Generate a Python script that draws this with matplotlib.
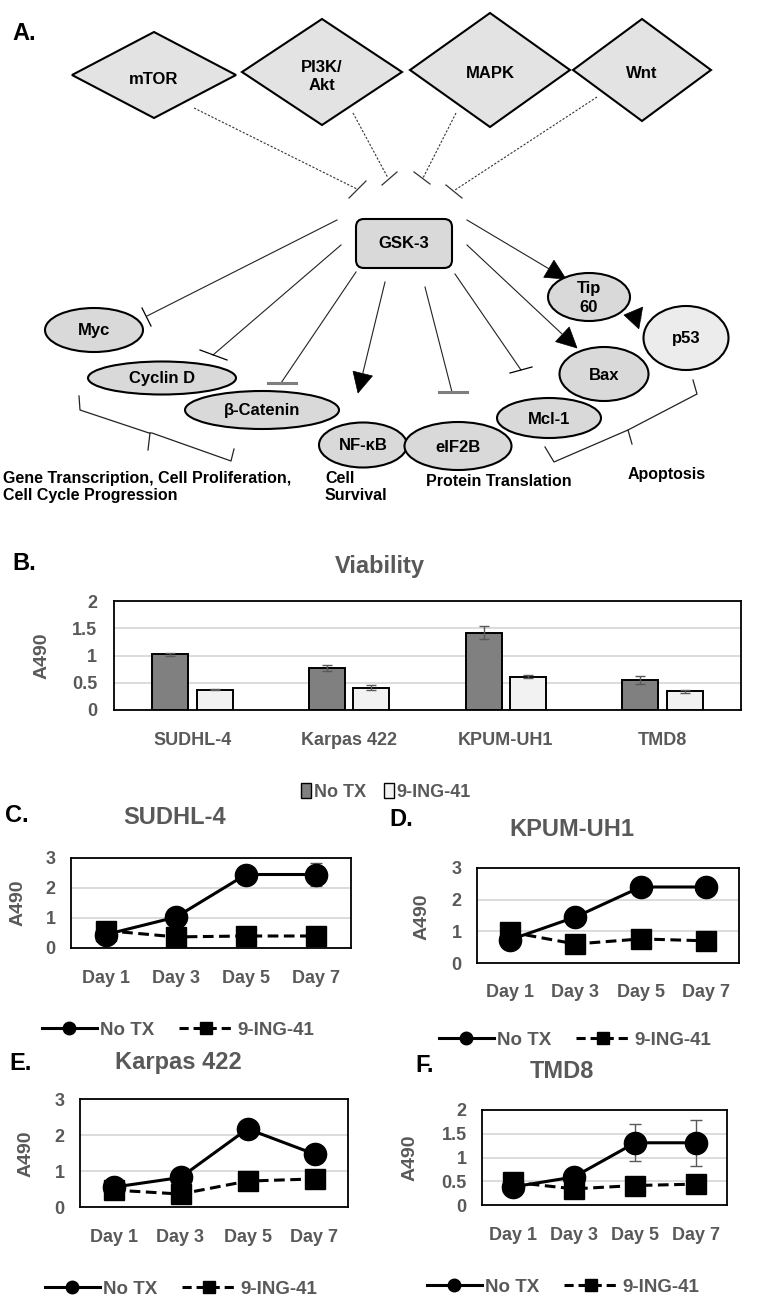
import matplotlib
matplotlib.use('Agg')
import matplotlib.pyplot as plt
import numpy as np
from matplotlib.patches import Polygon, Ellipse, FancyBboxPatch, Patch
from matplotlib.lines import Line2D

# ---- data ----
cell_lines = ['SUDHL-4', 'Karpas 422', 'KPUM-UH1', 'TMD8']
via_notx = [1.02, 0.77, 1.42, 0.55]
via_notx_err = [0.03, 0.06, 0.12, 0.07]
via_ing = [0.37, 0.41, 0.61, 0.34]
via_ing_err = [0.01, 0.04, 0.03, 0.02]

days = ['Day 1', 'Day 3', 'Day 5', 'Day 7']
sudhl_notx = [0.45, 1.03, 2.45, 2.45]
sudhl_notx_err = [0, 0, 0, 0.37]
sudhl_ing = [0.58, 0.37, 0.40, 0.40]
kpum_notx = [0.73, 1.45, 2.40, 2.40]
kpum_ing = [0.98, 0.60, 0.76, 0.70]
karpas_notx = [0.55, 0.82, 2.17, 1.47]
karpas_ing = [0.47, 0.36, 0.72, 0.78]
tmd8_notx = [0.38, 0.59, 1.31, 1.31]
tmd8_notx_err = [0, 0, 0.39, 0.49]
tmd8_ing = [0.48, 0.34, 0.41, 0.44]
no_err = [0, 0, 0, 0]

upstream = ['mTOR', 'PI3K/\nAkt', 'MAPK', 'Wnt']
targets = ['Myc', 'Cyclin D', 'β-Catenin', 'NF-κB', 'eIF2B', 'Mcl-1', 'Bax', 'Tip\n60', 'p53']

plt.rcParams['font.family'] = ['Liberation Sans', 'DejaVu Sans']
plt.rcParams['font.weight'] = 'bold'

W, H = 775, 1305
GRAY = '#595959'
fig = plt.figure(figsize=(7.75, 13.05), dpi=100)
ax0 = fig.add_axes([0, 0, 1, 1])
ax0.set_xlim(0, W)
ax0.set_ylim(H, 0)
ax0.axis('off')


def box(l, t, r, b):
    return [l / W, 1 - b / H, (r - l) / W, (b - t) / H]


# ---- panel A: pathway diagram ----
diamonds = [(154, 75, 82, 43), (322, 72, 80, 53), (490, 70, 80, 57), (642, 70, 69, 51)]
for name, (cx, cy, hw, hh) in zip(upstream, diamonds):
    ax0.add_patch(Polygon([(cx - hw, cy), (cx, cy - hh), (cx + hw, cy), (cx, cy + hh)],
                          closed=True, fc='#e3e3e3', ec='k', lw=1.5))
    ax0.text(cx, cy + 4, name, ha='center', va='center', fontsize=12, linespacing=1.25)

dashed = [((194, 108), (357, 189), (349, 198), (366, 181)),
          ((353, 113), (388, 178), (382, 185), (397, 172)),
          ((456, 113), (423, 178), (414, 172), (430, 184)),
          ((597, 97), (455, 190), (446, 185), (462, 198))]
for s, e, b1, b2 in dashed:
    ax0.plot([s[0], e[0]], [s[1], e[1]], color='#333333', lw=0.8, ls=(0, (2, 1.5)))
    ax0.plot([b1[0], b2[0]], [b1[1], b2[1]], color='#333333', lw=0.9)

ax0.add_patch(FancyBboxPatch((361, 224), 86, 39, boxstyle='round,pad=5,rounding_size=8',
                             fc='#d9d9d9', ec='k', lw=1.5))
ax0.text(404, 244, 'GSK-3', ha='center', va='center', fontsize=12)

inhib = [((337, 220), (147, 316), (142, 308), (151, 326), 'k', 0.9),
         ((341, 245), (213, 355), (200, 350), (227, 360), 'k', 0.9),
         ((356, 272), (281, 383), (268, 383), (296, 383), '#7f7f7f', 2.2),
         ((425, 287), (452, 392), (439, 392), (467, 392), '#7f7f7f', 2.2),
         ((455, 274), (521, 370), (510, 373), (532, 367), 'k', 0.9)]
for s, e, b1, b2, c, blw in inhib:
    ax0.plot([s[0], e[0]], [s[1], e[1]], color='#222222', lw=0.8)
    ax0.plot([b1[0], b2[0]], [b1[1], b2[1]], color=c, lw=blw)


def tri_arrow(start, tip, length=20, half=10):
    sx, sy = start
    tx, ty = tip
    d = np.hypot(tx - sx, ty - sy)
    ux, uy = (tx - sx) / d, (ty - sy) / d
    bx, by = tx - ux * length, ty - uy * length
    ax0.plot([sx, bx], [sy, by], color='#222222', lw=0.8)
    ax0.add_patch(Polygon([(tx, ty), (bx - uy * half, by + ux * half), (bx + uy * half, by - ux * half)],
                          closed=True, fc='k', ec='k', lw=0.5))


tri_arrow((385, 282), (358, 393))
tri_arrow((467, 245), (577, 348))
tri_arrow((467, 220), (566, 279))
tri_arrow((641, 318), (624, 315), length=17, half=11)

ellipses = [(94, 330, 98, 44), (162, 378, 148, 33), (262, 410, 154, 38), (363, 445, 88, 45),
            (458, 446, 107, 48), (549, 418, 104, 40), (604, 374, 89, 54), (589, 297, 82, 48),
            (686, 338, 85, 64)]
for name, (cx, cy, w, h) in zip(targets, ellipses):
    fc = '#ececec' if name == 'p53' else '#d9d9d9'
    ax0.add_patch(Ellipse((cx, cy), w, h, fc=fc, ec='k', lw=1.5))
    ax0.text(cx, cy + 1, name, ha='center', va='center', fontsize=12, linespacing=1.3)

# braces
ax0.plot([79, 80, 149, 152, 231, 234], [396, 410, 433, 433, 461, 449], color='#222222', lw=0.9)
ax0.plot([150, 148], [433, 450], color='#222222', lw=0.9)
ax0.plot([545, 554, 628, 697, 693], [447, 462, 430, 394, 380], color='#222222', lw=0.9)
ax0.plot([628, 632], [430, 444], color='#222222', lw=0.9)

ax0.text(3, 487, 'Gene Transcription, Cell Proliferation,\nCell Cycle Progression',
         ha='left', va='center', fontsize=11.5, linespacing=1.2)
ax0.text(325, 487, 'Cell\nSurvival', ha='left', va='center', fontsize=11.5, linespacing=1.2)
ax0.text(499, 482, 'Protein Translation', ha='center', va='center', fontsize=11.5)
ax0.text(667, 474, 'Apoptosis', ha='center', va='center', fontsize=11.5)

# panel letters
for lab, (px, py) in zip(['A.', 'B.', 'C.', 'D.', 'E.', 'F.'],
                         [(24, 33), (24, 564), (17, 816), (401, 819), (21, 1063), (425, 1066)]):
    ax0.text(px, py, lab, ha='center', va='center', fontsize=17)

# ---- panel B: viability bars ----
axb = fig.add_axes(box(114, 601, 741, 710))
x = np.arange(len(cell_lines))
ekw = dict(ecolor=GRAY, elinewidth=1, capsize=3.5, capthick=1)
axb.bar(x - 0.142, via_notx, 0.23, color='#808080', edgecolor='k', lw=1.4,
        yerr=via_notx_err, error_kw=ekw, zorder=3)
axb.bar(x + 0.142, via_ing, 0.23, color='#f2f2f2', edgecolor='k', lw=1.4,
        yerr=via_ing_err, error_kw=ekw, zorder=3)
axb.set_xlim(-0.5, 3.5)
axb.set_ylim(0, 2)
axb.set_yticks([0, 0.5, 1, 1.5, 2])
axb.set_yticklabels(['0', '0.5', '1', '1.5', '2'])
axb.set_xticks(x)
axb.set_xticklabels(cell_lines)
axb.tick_params(length=0, labelsize=13, labelcolor=GRAY)
axb.tick_params(axis='x', pad=16)
axb.tick_params(axis='y', pad=12)
axb.grid(axis='y', color='#d9d9d9', lw=1.3)
axb.set_axisbelow(True)
for s in axb.spines.values():
    s.set_linewidth(1.3)
ax0.text(380, 566, 'Viability', ha='center', va='center', fontsize=17, color=GRAY)
ax0.text(42, 656, 'A490', ha='center', va='center', fontsize=14, color=GRAY, rotation=90)
axb.legend([Patch(fc='#808080', ec='k'), Patch(fc='#f2f2f2', ec='k')], ['No TX', '9-ING-41'],
           loc='center', bbox_to_anchor=(386 / W, 1 - 792 / H), bbox_transform=fig.transFigure,
           ncol=2, frameon=False, handlelength=0.55, handleheight=0.9, handletextpad=0.15,
           columnspacing=1.0, prop={'size': 13, 'weight': 'bold'}, labelcolor=GRAY)


# ---- panels C-F: time courses ----
def line_panel(rect, title, tpos, ylpos, legpos, notx, notx_err, ing, ymax, yticks, ylabels, xpad):
    ax = fig.add_axes(box(*rect))
    xx = np.arange(len(days))
    ax.errorbar(xx, ing, yerr=no_err, color='k', lw=2.2, ls=(0, (3.5, 1.8)), marker='s', ms=14,
                zorder=3)
    ax.errorbar(xx, notx, yerr=notx_err, color='k', lw=2.2, marker='o', ms=16,
                ecolor=GRAY, elinewidth=1, capsize=4, capthick=1, zorder=4)
    ax.set_xlim(-0.5, 3.5)
    ax.set_ylim(0, ymax)
    ax.set_yticks(yticks)
    ax.set_yticklabels(ylabels)
    ax.set_xticks(xx)
    ax.set_xticklabels(days)
    ax.tick_params(length=0, labelsize=13, labelcolor=GRAY)
    ax.tick_params(axis='x', pad=xpad)
    ax.tick_params(axis='y', pad=11)
    ax.grid(axis='y', color='#d9d9d9', lw=1.3)
    ax.set_axisbelow(True)
    for s in ax.spines.values():
        s.set_linewidth(1.3)
    ax0.text(tpos[0], tpos[1], title, ha='center', va='center', fontsize=17, color=GRAY)
    ax0.text(ylpos[0], ylpos[1], 'A490', ha='center', va='center', fontsize=14, color=GRAY,
             rotation=90)
    h1 = Line2D([0], [0], color='k', lw=2.2, marker='o', ms=9)
    h2 = Line2D([0], [0], color='k', lw=2.2, ls=(0, (3, 1.6)), marker='s', ms=8)
    ax.legend([h1, h2], ['No TX', '9-ING-41'], loc='center',
              bbox_to_anchor=(legpos[0] / W, 1 - legpos[1] / H), bbox_transform=fig.transFigure,
              ncol=2, frameon=False, handlelength=2.9, handletextpad=0.2, columnspacing=1.3,
              prop={'size': 13.5, 'weight': 'bold'}, labelcolor=GRAY)


line_panel((71, 858, 351, 948), 'SUDHL-4', (175, 818), (18, 903), (178, 1030),
           sudhl_notx, sudhl_notx_err, sudhl_ing, 3, [0, 1, 2, 3], ['0', '1', '2', '3'], 16)
line_panel((477, 868, 739, 963), 'KPUM-UH1', (572, 830), (422, 917), (575, 1040),
           kpum_notx, no_err, kpum_ing, 3, [0, 1, 2, 3], ['0', '1', '2', '3'], 15)
line_panel((80, 1099, 348, 1207), 'Karpas 422', (178, 1062), (26, 1154), (181, 1289),
           karpas_notx, no_err, karpas_ing, 3, [0, 1, 2, 3], ['0', '1', '2', '3'], 16)
line_panel((482, 1110, 727, 1205), 'TMD8', (562, 1072), (410, 1158), (563, 1287),
           tmd8_notx, tmd8_notx_err, tmd8_ing, 2, [0, 0.5, 1, 1.5, 2],
           ['0', '0.5', '1', '1.5', '2'], 16)

fig.savefig('out.png', dpi=100)
